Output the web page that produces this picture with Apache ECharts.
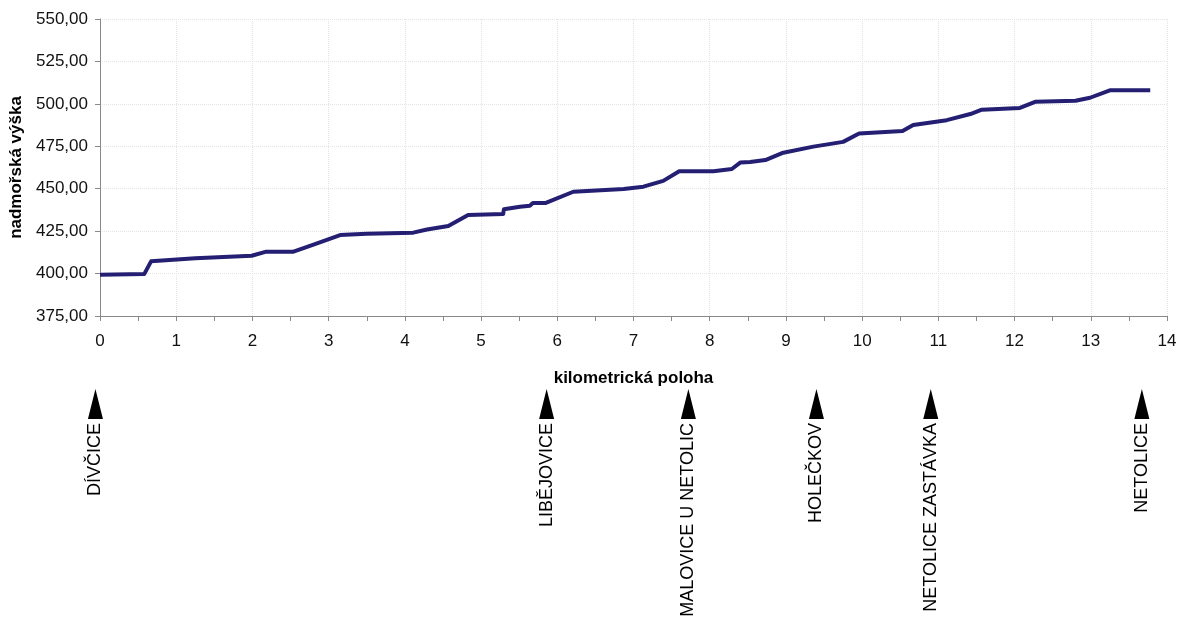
<!DOCTYPE html>
<html>
<head>
<meta charset="utf-8">
<script src="https://cdn.jsdelivr.net/npm/echarts@6/dist/echarts.min.js"></script>
<style>
html,body{margin:0;padding:0;background:#fff;}
#c{width:1185px;height:617px;}
</style>
</head>
<body>
<div id="c"></div>
<script>
// longitudinal profile: km position and altitude
const km =  [0, 0.58, 0.67, 1.25, 1.99, 2.17, 2.53, 2.82, 3.15, 3.5, 4.11, 4.29, 4.57, 4.83, 5.29, 5.30, 5.51, 5.64, 5.68, 5.85, 6.21, 6.87, 7.13, 7.39, 7.60, 8.05, 8.29, 8.40, 8.53, 8.73, 8.95, 9.36, 9.75, 9.96, 10.53, 10.67, 11.11, 11.42, 11.57, 12.07, 12.27, 12.80, 12.99, 13.25, 13.78];
const alt = [399.3, 399.7, 407.2, 409.0, 410.5, 412.8, 412.8, 417.4, 422.7, 423.5, 424.1, 426.0, 428.0, 434.5, 435.1, 437.9, 439.4, 440.0, 441.6, 441.6, 448.2, 449.8, 451.2, 454.6, 460.3, 460.3, 461.6, 465.4, 465.8, 466.9, 471.0, 474.8, 477.6, 482.5, 484.0, 487.5, 490.4, 494.0, 496.6, 497.6, 501.2, 501.8, 503.6, 508.0, 508.0];
const yTicks = [375, 400, 425, 450, 475, 500, 525, 550];
const stationNames = ['DÍVČICE', 'LIBĚJOVICE', 'MALOVICE U NETOLIC', 'HOLEČKOV', 'NETOLICE ZASTÁVKA', 'NETOLICE'];
const stationKm = [-0.06, 5.86, 7.72, 9.40, 10.90, 13.67];

const chart = echarts.init(document.getElementById('c'), null, {renderer: 'canvas'});
const FONT = 'Liberation Sans, Arial, sans-serif';
chart.setOption({
  animation: false,
  backgroundColor: '#fff',
  grid: [
    {left: 100, right: 18, top: 19, height: 297, outerBoundsMode: 'none', containLabel: false},
    {left: 100, right: 18, top: 389, height: 30, outerBoundsMode: 'none', containLabel: false}
  ],
  xAxis: [{
    gridIndex: 0,
    type: 'value', min: 0, max: 14, interval: 1,
    name: 'kilometrická poloha', nameLocation: 'middle', nameGap: 54,
    nameTextStyle: {fontFamily: FONT, fontSize: 17, fontWeight: 'bold', color: '#000'},
    axisLine: {lineStyle: {color: '#888', width: 1}},
    axisTick: {show: true, length: 5, lineStyle: {color: '#888'}},
    minorTick: {show: true, splitNumber: 2, length: 5, lineStyle: {color: '#888'}},
    axisLabel: {fontFamily: FONT, fontSize: 17, color: '#111', margin: 17},
    splitLine: {show: true, lineStyle: {color: '#e4e4e4', type: 'dotted', width: 1}}
  }, {
    gridIndex: 1, type: 'value', min: 0, max: 14, show: false
  }],
  yAxis: [{
    gridIndex: 0,
    type: 'value', min: yTicks[0], max: yTicks[yTicks.length - 1], interval: 25,
    name: 'nadmořská výška', nameLocation: 'middle', nameGap: 72, nameRotate: 90,
    nameTextStyle: {fontFamily: FONT, fontSize: 17, fontWeight: 'bold', color: '#000'},
    axisLine: {show: true, lineStyle: {color: '#888', width: 1}},
    axisTick: {show: true, length: 5, lineStyle: {color: '#888'}},
    axisLabel: {fontFamily: FONT, fontSize: 17, color: '#111', margin: 12,
      formatter: v => v.toFixed(2).replace('.', ',')},
    splitLine: {show: true, lineStyle: {color: '#e4e4e4', type: 'dotted', width: 1}}
  }, {
    gridIndex: 1, type: 'value', min: 0, max: 1, show: false
  }],
  series: [{
    type: 'line',
    xAxisIndex: 0, yAxisIndex: 0,
    data: km.map((k, i) => [k, alt[i]]),
    showSymbol: false, symbol: 'none',
    lineStyle: {color: '#241f72', width: 4, join: 'round'},
    z: 5
  }, {
    type: 'scatter',
    xAxisIndex: 1, yAxisIndex: 1,
    clip: false,
    symbol: 'triangle', symbolSize: [15, 30],
    itemStyle: {color: '#000', opacity: 1},
    data: stationKm.map((k, i) => ({value: [k, 0.5], name: stationNames[i]})),
    label: {
      show: true, position: 'bottom', distance: 4, rotate: 90,
      align: 'right', verticalAlign: 'middle',
      formatter: p => p.name,
      fontFamily: FONT, fontSize: 18, color: '#000'
    }
  }]
});
</script>
</body>
</html>
